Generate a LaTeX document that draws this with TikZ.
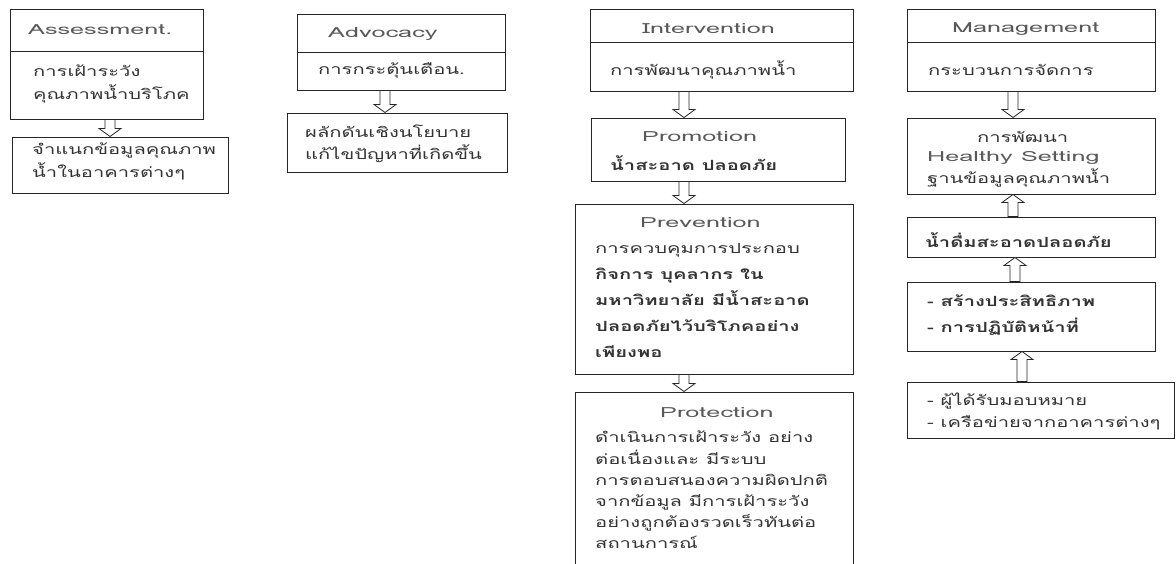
\documentclass[tikz,border=0pt]{standalone}
\usepackage{fontspec}
\setmainfont[Script=Thai,FakeStretch=1.44]{Loma}
\newfontfamily\latinfont[FakeStretch=1.8]{Loma}
\usetikzlibrary{calc,fit}

\tikzset{
  frame/.style={draw=black!85,line width=1pt,inner sep=0pt},
  txt/.style={anchor=west,inner sep=0pt,align=left,text=black!80,font=\fontsize{14}{23}\selectfont},
  head/.style={txt,text=black!65,font=\fontsize{14}{23}\latinfont},
}
\newcommand\hollowarrow[2]{% tail, tip
  \draw[draw=black!85,line width=0.8pt,fill=white] let \p1=(#1),\p2=(#2),\n1={sign(\y2-\y1)*8} in
    (\x1-5pt,\y1) -- (\x1-5pt,{\y2-\n1*1pt}) -- (\x1-11pt,{\y2-\n1*1pt}) -- (\x1,\y2)
    -- (\x1+11pt,{\y2-\n1*1pt}) -- (\x1+5pt,{\y2-\n1*1pt}) -- (\x1+5pt,\y1) -- cycle;}

\begin{document}
\begin{tikzpicture}[x=1pt,y=-1pt]
		\useasboundingbox (0,0) rectangle (1176,563);
		\clip (0,0) rectangle (1176,563);
		% boxes
		\node[frame,fit={(10,9) (203,51)}] (asmH) {};
		\node[frame,fit={(10,51) (203,119)}] (asmB) {};
		\node[frame,fit={(12,137) (228,193)}] (asmC) {};
		\node[frame,fit={(297,14) (505,52)}] (advH) {};
		\node[frame,fit={(297,52) (505,90)}] (advB) {};
		\node[frame,fit={(287,113) (507,172)}] (advC) {};
		\node[frame,fit={(590,9) (853,42)}] (intH) {};
		\node[frame,fit={(590,42) (853,91)}] (intB) {};
		\node[frame,fit={(591,118) (845,181)}] (pro) {};
		\node[frame,fit={(575,204) (853,374)}] (prv) {};
		\node[frame,fit={(575,392) (853,590)}] (prt) {};
		\node[frame,fit={(907,9) (1155,42)}] (manH) {};
		\node[frame,fit={(907,42) (1155,91)}] (manB) {};
		\node[frame,fit={(907,118) (1155,194)}] (hs) {};
		\node[frame,fit={(907,217) (1155,257)}] (dw) {};
		\node[frame,fit={(907,282) (1155,351)}] (eff) {};
		\node[frame,fit={(907,382) (1174.5,438)}] (net) {};
		% texts
		\node[head] (tAsmH) at (28,30) {Assessment.};
		\node[txt] (tAsmB) at (33,83.5) {การเฝ้าระวัง\\คุณภาพน้ำบริโภค};
		\node[txt] (tAsmC) at (32,161.5) {จำแนกข้อมูลคุณภาพ\\น้ำในอาคารต่างๆ};
		\node[head] (tAdvH) at (328,34) {Advocacy};
		\node[txt] (tAdvB) at (318,70) {การกระตุ้นเตือน.};
		\node[txt,font=\fontsize{14}{22}\selectfont] (tAdvC) at (305,144) {ผลักดันเชิงนโยบาย\\แก้ไขปัญหาที่เกิดขึ้น};
		\node[head] (tIntH) at (642,29) {Intervention};
		\node[txt] (tIntB) at (610,70) {การพัฒนาคุณภาพน้ำ};
		\node[head] (tPro) at (642,137) {Promotion};
		\node[txt,font=\fontsize{14}{23}\bfseries] (tProB) at (610,163) {น้ำสะอาด ปลอดภัย};
		\node[head] (tPrv) at (640,223) {Prevention};
		\node[txt,font=\fontsize{14}{26}\selectfont] (tPrvB) at (595,300.5) {การควบคุมการประกอบ\\\textbf{กิจการ บุคลากร ใน}\\\textbf{มหาวิทยาลัย มีน้ำสะอาด}\\\textbf{ปลอดภัยไว้บริโภคอย่าง}\\\textbf{เพียงพอ}};
		\node[head] (tPrt) at (660,413) {Protection};
		\node[txt,font=\fontsize{14}{21.2}\selectfont] (tPrtB) at (595,490) {ดำเนินการเฝ้าระวัง อย่าง\\ต่อเนื่องและ มีระบบ\\การตอบสนองความผิดปกติ\\จากข้อมูล มีการเฝ้าระวัง\\อย่างถูกต้องรวดเร็วทันต่อ\\สถานการณ์};
		\node[head] (tManH) at (952,29) {Management};
		\node[txt] (tManB) at (928,70) {กระบวนการจัดการ};
		\node[txt] (tHs1) at (977,137) {การพัฒนา};
		\node[txt,font=\fontsize{14}{22}\selectfont] (tHs2) at (927,169) {{\color{black!65}\latinfont Healthy Setting}\\ฐานข้อมูลคุณภาพน้ำ};
		\node[txt,font=\fontsize{14}{23}\bfseries] (tDw) at (925,240) {น้ำดื่มสะอาดปลอดภัย};
		\node[txt,font=\fontsize{14}{26}\bfseries] (tEff) at (927,315) {- สร้างประสิทธิภาพ\\- การปฏิบัติหน้าที่};
		\node[txt,font=\fontsize{14}{22}\selectfont] (tNet) at (927,411) {- ผู้ได้รับมอบหมาย\\- เครือข่ายจากอาคารต่างๆ};
		% arrows
		\coordinate (x1) at (110,0);
		\coordinate (x2) at (385,0);
		\coordinate (x3) at (684,0);
		\coordinate (x4) at (1013,0);
		\coordinate (x5) at (1015,0);
		\coordinate (x6) at (1022,0);
		\hollowarrow{asmB.south -| x1}{asmC.north -| x1}
		\hollowarrow{advB.south -| x2}{advC.north -| x2}
		\hollowarrow{intB.south -| x3}{pro.north -| x3}
		\hollowarrow{pro.south -| x3}{prv.north -| x3}
		\hollowarrow{prv.south -| x3}{prt.north -| x3}
		\hollowarrow{manB.south -| x4}{hs.north -| x4}
		\hollowarrow{dw.north -| x4}{hs.south -| x4}
		\hollowarrow{eff.north -| x5}{dw.south -| x5}
		\hollowarrow{net.north -| x6}{eff.south -| x6}
		\end{tikzpicture}
\end{document}
